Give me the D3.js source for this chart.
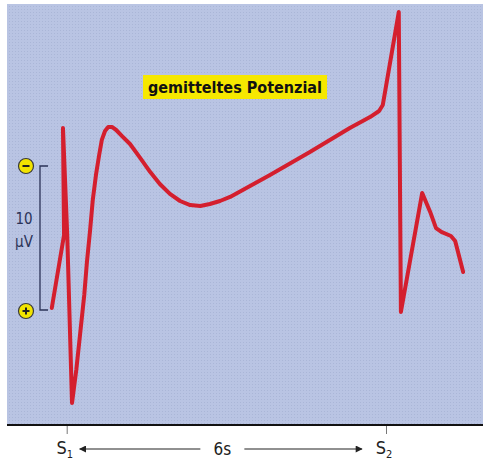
<!DOCTYPE html>
<html>
<head>
<meta charset="utf-8">
<script src="https://cdn.jsdelivr.net/npm/d3@7"></script>
<style>
  body { margin: 0; background: #fff; }
  svg { display: block; }
</style>
</head>
<body>
<svg width="483" height="462"></svg>
<script>
const svg = d3.select("svg");

// Zeit in s (S1 = 0, S2 = 6) und Potenzial in µV (negativ nach oben)
const zeit = [-0.28, -0.05, -0.07, 0.01, 0.1, 0.18, 0.25, 0.33, 0.38, 0.44, 0.49, 0.55, 0.61, 0.66,
  0.72, 0.78, 0.85, 0.93, 1.04, 1.19, 1.38, 1.57, 1.75, 1.94, 2.13, 2.32, 2.51, 2.69, 2.88, 3.07,
  3.82, 4.57, 5.32, 5.7, 5.87, 5.94, 6.24, 6.28, 6.68, 6.83, 6.94, 7.04, 7.22, 7.3, 7.45];
const potenzial = [4.86, -0.21, -7.64, -0.21, 11.46, 9.17, 6.74, 3.96, 1.67, -0.56, -2.64, -4.38, -5.76, -6.81,
  -7.43, -7.71, -7.71, -7.5, -7.08, -6.53, -5.56, -4.58, -3.75, -3.06, -2.57, -2.29, -2.22, -2.36, -2.57, -2.85,
  -4.38, -5.97, -7.64, -8.4, -8.82, -9.24, -15.69, 5.14, -3.13, -1.81, -0.69, -0.42, -0.14, 0.21, 2.36];
const reizZeiten = [0, 6];
const reizNamen = ["1", "2"];
const skalaMarke = [-5, 5]; // 10 µV
const titel = "gemitteltes Potenzial";

const schrift = "'Liberation Sans Narrow', 'DejaVu Sans Condensed', 'Open Sans', sans-serif";

const x = d3.scaleLinear().domain([0, 6]).range([66.7, 386]);
const y = d3.scaleLinear().domain([0, 10]).range([238, 382]);

// Hintergrund mit leichtem Raster
const defs = svg.append('defs');
const muster = defs.append('pattern')
    .attr('id', 'raster')
    .attr('width', 3).attr('height', 3)
    .attr('patternUnits', 'userSpaceOnUse');
muster.append('rect').attr('width', 3).attr('height', 3).attr('fill', '#b9c4e3');
muster.append('rect').attr('width', 1).attr('height', 1).attr('fill', '#aab6d7');

svg.append('rect')
    .attr('x', 7).attr('y', 4)
    .attr('width', 476).attr('height', 421)
    .attr('fill', 'url(#raster)');

// Achse
const achse = svg.append('g')
    .attr('transform', 'translate(0,425)')
    .call(d3.axisBottom(x).tickValues(reizZeiten).tickSize(9).tickFormat(''));
achse.select('.domain').remove();
achse.selectAll('.tick line').attr('stroke', '#777').attr('stroke-width', 1);

svg.append('line')
    .attr('x1', 7).attr('x2', 483)
    .attr('y1', 425).attr('y2', 425)
    .attr('stroke', '#111').attr('stroke-width', 2);

// S1 / S2 Beschriftung
const lab = svg.append('g').selectAll('text')
    .data(reizZeiten)
    .join('text')
        .attr('x', d => x(d) - 2)
        .attr('y', 454)
        .attr('text-anchor', 'middle')
        .attr('font-family', schrift)
        .attr('font-size', 18)
        .attr('fill', '#222');
lab.append('tspan').text('S');
lab.append('tspan')
    .attr('font-size', 11)
    .attr('dy', 4)
    .text((d, i) => reizNamen[i]);

// Pfeile "6s"
defs.append('marker')
    .attr('id', 'pfeil')
    .attr('viewBox', '0 0 10 10')
    .attr('refX', 9).attr('refY', 5)
    .attr('markerWidth', 9).attr('markerHeight', 7)
    .attr('markerUnits', 'userSpaceOnUse')
    .attr('orient', 'auto-start-reverse')
    .append('path')
        .attr('d', 'M0,0 L10,5 L0,10 Z')
        .attr('fill', '#222');

const mitte = x(3) - 6;
svg.append('line')
    .attr('x1', mitte - 20).attr('x2', x(0) + 13)
    .attr('y1', 449).attr('y2', 449)
    .attr('stroke', '#222').attr('stroke-width', 1.2)
    .attr('marker-end', 'url(#pfeil)');
svg.append('line')
    .attr('x1', mitte + 24).attr('x2', x(6) - 24)
    .attr('y1', 449).attr('y2', 449)
    .attr('stroke', '#222').attr('stroke-width', 1.2)
    .attr('marker-end', 'url(#pfeil)');
svg.append('text')
    .attr('x', mitte + 2).attr('y', 455)
    .attr('text-anchor', 'middle')
    .attr('font-family', schrift)
    .attr('font-size', 17)
    .attr('fill', '#222')
    .text('6s');

// Skalenbalken 10 µV
const skala = svg.append('g').attr('stroke', '#2b3358').attr('stroke-width', 1.3).attr('fill', 'none');
skala.append('path')
    .attr('d', `M48,${y(skalaMarke[0])} H40 V${y(skalaMarke[1])} H48`);

svg.append('text')
    .attr('x', 24).attr('y', y(-1))
    .attr('text-anchor', 'middle')
    .attr('font-family', schrift)
    .attr('font-size', 15)
    .attr('fill', '#2b3358')
    .text('10');
svg.append('text')
    .attr('x', 24).attr('y', y(0.6))
    .attr('text-anchor', 'middle')
    .attr('font-family', schrift)
    .attr('font-size', 15)
    .attr('fill', '#2b3358')
    .text('µV');

const zeichen = svg.append('g').selectAll('g')
    .data(skalaMarke)
    .join('g')
        .attr('transform', d => `translate(26,${y(d) + (d > 0 ? 1 : 0)})`);
zeichen.append('circle')
    .attr('r', 7.5)
    .attr('fill', '#f2e400')
    .attr('stroke', '#3a3a3a')
    .attr('stroke-width', 1.2);
zeichen.append('path')
    .attr('d', d => d < 0 ? 'M-3.5,0 H3.5' : 'M-3.5,0 H3.5 M0,-3.5 V3.5')
    .attr('stroke', '#222')
    .attr('stroke-width', 2);

// Kurve
const punkte = zeit.map((t, i) => [t, potenzial[i]]);
const linie = d3.line()
    .x(d => x(d[0]))
    .y(d => y(d[1]));

svg.append('path')
    .datum(punkte)
    .attr('d', linie)
    .attr('fill', 'none')
    .attr('stroke', '#d41f2e')
    .attr('stroke-width', 4)
    .attr('stroke-linejoin', 'round')
    .attr('stroke-linecap', 'round');

// Titelkasten
svg.append('rect')
    .attr('x', 143).attr('y', 75)
    .attr('width', 184).attr('height', 24)
    .attr('fill', '#f6e800');
svg.append('text')
    .attr('x', 235).attr('y', 93)
    .attr('text-anchor', 'middle')
    .attr('font-family', schrift)
    .attr('font-weight', 'bold')
    .attr('font-size', 16)
    .attr('fill', '#111')
    .text(titel);
</script>
</body>
</html>
